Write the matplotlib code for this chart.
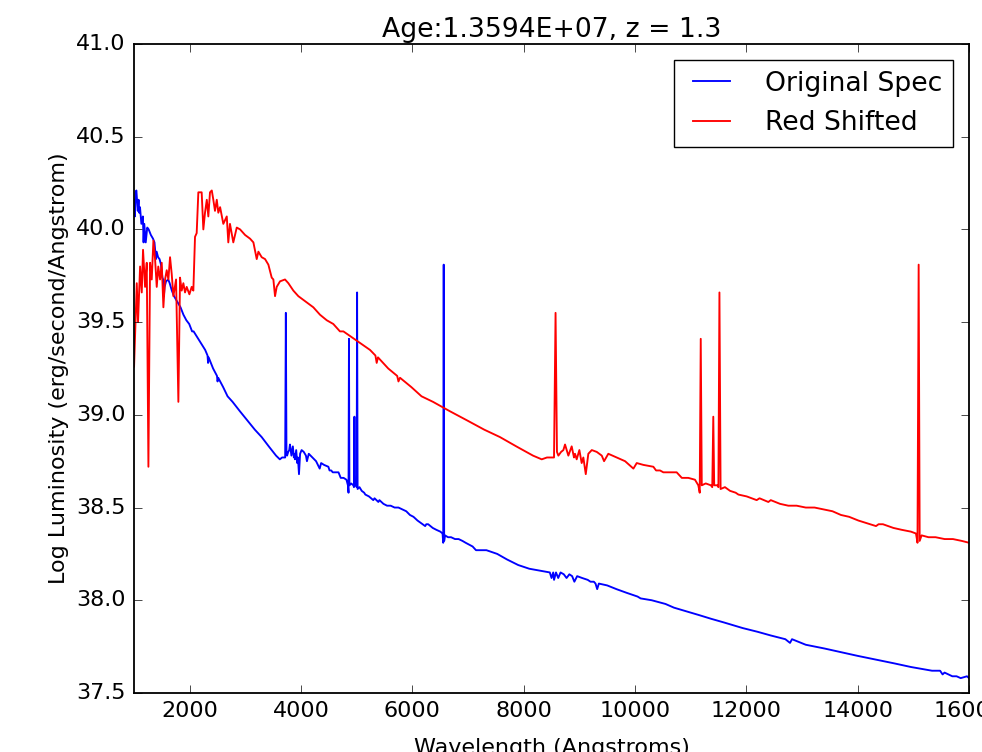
import matplotlib
matplotlib.use('Agg')
import matplotlib.pyplot as plt

# rest frame spectrum (Angstrom, log erg/s/A)
age = 1.3594e7
z = 1.3

rest_wave = [435, 456, 466, 482, 495, 505, 521, 534, 547, 560, 573, 586, 599, 612, 624,
             638, 651, 664, 677, 690, 703, 716, 729, 742, 763, 781, 794, 807, 820, 833,
             846, 867, 885, 898, 911, 924, 937, 963, 976, 989, 1003, 1015, 1028, 1042,
             1054, 1067, 1081, 1093, 1107, 1132, 1159, 1171, 1184, 1210, 1237, 1263,
             1302, 1341, 1367, 1393, 1406, 1432, 1458, 1484, 1510, 1523, 1536, 1549,
             1575, 1614, 1640, 1679, 1718, 1757, 1796, 1835, 1887, 1940, 1991, 2043,
             2070, 2132, 2174, 2278, 2320, 2330, 2340, 2420, 2490, 2500, 2512, 2600,
             2680, 2770, 2900, 3036, 3170, 3293, 3420, 3551, 3619, 3660, 3700, 3715,
             3727, 3738, 3749, 3770, 3788, 3801, 3827, 3853, 3871, 3879, 3892, 3913,
             3931, 3944, 3963, 3983, 4010, 4049, 4088, 4106, 4139, 4205, 4270, 4335,
             4361, 4413, 4491, 4512, 4543, 4569, 4621, 4673, 4713, 4764, 4816, 4842,
             4853, 4861, 4869, 4900, 4940, 4951, 4959, 4966, 4990, 4999, 5007, 5016,
             5050, 5090, 5134, 5155, 5220, 5259, 5298, 5320, 5389, 5408, 5480, 5545,
             5610, 5681, 5750, 5819, 5890, 5956, 6020, 6092, 6138, 6230, 6250, 6284,
             6326, 6366, 6430, 6503, 6542, 6554, 6563, 6571, 6586, 6640, 6695, 6766,
             6831, 6900, 6957, 7082, 7143, 7200, 7330, 7524, 7700, 7901, 8100, 8280,
             8469, 8500, 8530, 8545, 8580, 8620, 8662, 8720, 8770, 8820, 8870, 8910,
             8960, 9050, 9150, 9200, 9260, 9290, 9320, 9350, 9500, 9666, 9850, 10045,
             10100, 10300, 10547, 10700, 10926, 11150, 11367, 11600, 11934, 12200,
             12439, 12700, 12784, 12820, 13067, 13400, 13698, 14000, 14328, 14650,
             14957, 15150, 15335, 15480, 15525, 15560, 15700, 15776, 15850, 15963, 16000]

log_lum = [39.26, 39.71, 39.50, 39.80, 39.66, 39.89, 39.69, 39.82, 38.72, 39.82, 39.73,
           39.94, 39.84, 39.69, 39.80, 39.73, 39.82, 39.58, 39.73, 39.78, 39.73, 39.85,
           39.76, 39.64, 39.73, 39.07, 39.74, 39.67, 39.71, 39.66, 39.69, 39.65, 39.69,
           39.67, 39.96, 39.98, 40.20, 40.20, 40.00, 40.09, 40.16, 40.07, 40.20, 40.21,
           40.16, 40.10, 40.16, 40.09, 40.12, 40.03, 40.07, 39.93, 40.03, 39.93, 40.01,
           40.00, 39.97, 39.95, 39.93, 39.84, 39.88, 39.85, 39.84, 39.81, 39.74, 39.73,
           39.64, 39.69, 39.72, 39.73, 39.71, 39.67, 39.64, 39.62, 39.60, 39.58, 39.54,
           39.51, 39.49, 39.45, 39.45, 39.42, 39.40, 39.35, 39.32, 39.28, 39.31, 39.25,
           39.21, 39.18, 39.20, 39.15, 39.10, 39.07, 39.02, 38.97, 38.92, 38.88, 38.83,
           38.78, 38.76, 38.77, 38.77, 38.77, 39.55, 38.80, 38.78, 38.80, 38.81, 38.84,
           38.78, 38.83, 38.77, 38.79, 38.76, 38.81, 38.74, 38.77, 38.68, 38.79, 38.81,
           38.80, 38.78, 38.75, 38.79, 38.77, 38.75, 38.71, 38.74, 38.73, 38.72, 38.70,
           38.70, 38.69, 38.69, 38.69, 38.66, 38.66, 38.65, 38.62, 38.58, 39.41, 38.62,
           38.63, 38.62, 38.61, 38.99, 38.62, 38.62, 38.61, 39.66, 38.60, 38.61, 38.59,
           38.58, 38.57, 38.56, 38.55, 38.54, 38.55, 38.53, 38.54, 38.52, 38.51, 38.51,
           38.50, 38.50, 38.49, 38.48, 38.46, 38.45, 38.43, 38.42, 38.40, 38.41, 38.41,
           38.40, 38.39, 38.38, 38.37, 38.36, 38.31, 39.81, 38.32, 38.35, 38.34, 38.34,
           38.33, 38.33, 38.32, 38.31, 38.29, 38.27, 38.27, 38.27, 38.25, 38.22, 38.19,
           38.17, 38.16, 38.15, 38.12, 38.15, 38.11, 38.15, 38.12, 38.15, 38.14, 38.12,
           38.14, 38.13, 38.10, 38.13, 38.12, 38.11, 38.10, 38.10, 38.09, 38.06, 38.09,
           38.08, 38.06, 38.04, 38.02, 38.01, 38.00, 37.98, 37.96, 37.94, 37.92, 37.90,
           37.88, 37.85, 37.83, 37.81, 37.79, 37.77, 37.79, 37.76, 37.74, 37.72, 37.70,
           37.68, 37.66, 37.64, 37.63, 37.62, 37.62, 37.60, 37.61, 37.59, 37.59, 37.58,
           37.59, 37.58]

x_ticks = [2000, 4000, 6000, 8000, 10000, 12000, 14000, 16000]
y_ticks = [37.5, 38.0, 38.5, 39.0, 39.5, 40.0, 40.5, 41.0]


def create_chart():
    plt.style.use('classic')
    plt.rcParams['font.size'] = 16
    plt.rcParams['xtick.major.size'] = 5.5
    plt.rcParams['ytick.major.size'] = 5.5
    plt.rcParams['xtick.major.pad'] = 6
    plt.rcParams['ytick.major.pad'] = 6

    shifted_wave = [w * (1 + z) for w in rest_wave]

    fig = plt.figure(figsize=(9.82, 7.52), dpi=100, facecolor='white')
    ax = fig.add_axes([0.1365, 0.0785, 0.8503, 0.863])
    ax.plot(rest_wave, log_lum, color='b', linewidth=1.35, label='Original Spec')
    ax.plot(shifted_wave, log_lum, color='r', linewidth=1.35, label='Red Shifted')

    ax.set_xlim(1000, 16000)
    ax.set_ylim(37.5, 41.0)
    ax.set_xticks(x_ticks)
    ax.set_yticks(y_ticks)
    ax.set_xlabel('Wavelength (Angstroms)', fontsize=16, labelpad=12)
    ax.set_ylabel('Log Luminosity (erg/second/Angstrom)', fontsize=16)
    ax.set_title('Age:%.4E, z = %.1f' % (age, z), fontsize=19.2)
    for spine in ax.spines.values():
        spine.set_linewidth(1.3)

    ax.legend(loc='upper right', fontsize=19.2, handlelength=2.0,
              handletextpad=1.0, borderpad=0.4, borderaxespad=0.6,
              fancybox=False)

    fig.savefig('out.png', dpi=100, facecolor='white')


if __name__ == "__main__":
    create_chart()
